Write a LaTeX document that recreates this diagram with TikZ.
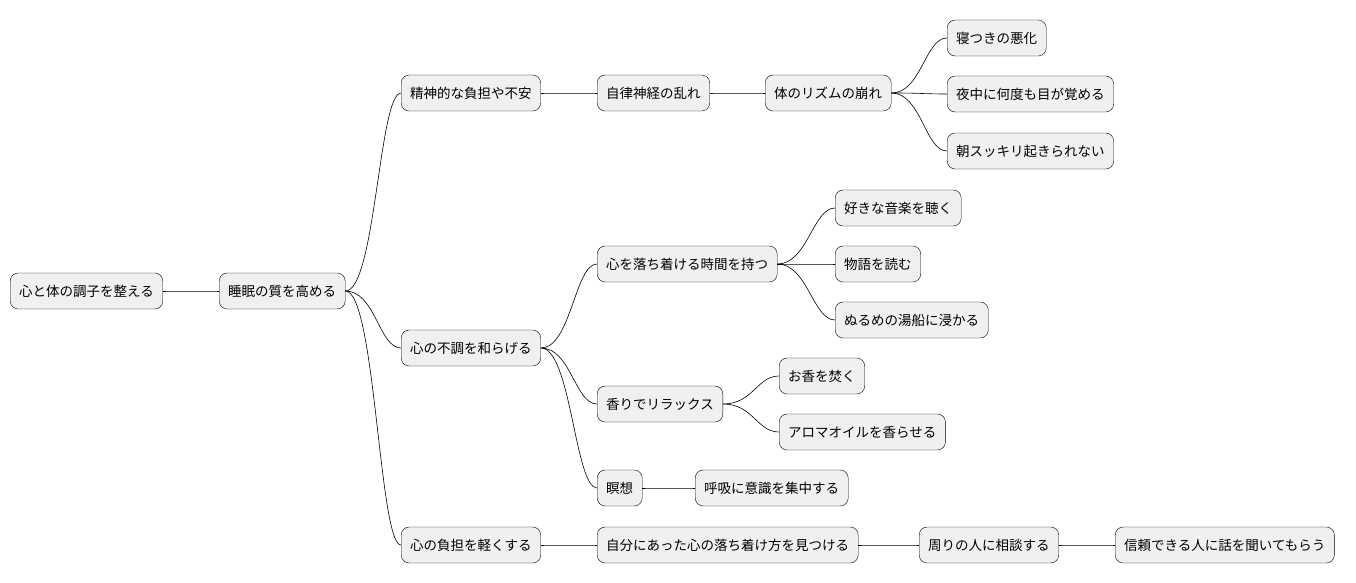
\documentclass[tikz,border=0pt]{standalone}
\usepackage{fontspec}
\setmainfont{Noto Sans CJK JP}
\begin{document}
\begin{tikzpicture}[x=1pt,y=-1pt,>=latex]
        \tikzset{
                topic/.style={draw=black,fill=black!6,rounded corners=8pt,anchor=west,
                        minimum height=36pt,inner xsep=9pt,font=\fontsize{13.5}{15}\selectfont},
                link/.style={black,line width=0.6pt}
        }
        \useasboundingbox (0,0) rectangle (1356,583);

        % root and first level
        \node[topic] (root) at (10,291) {心と体の調子を整える};
        \node[topic] (sleep) at (219,291) {睡眠の質を高める};
        \node[topic] (stress) at (401,93) {精神的な負担や不安};
        \node[topic] (ease) at (401,348) {心の不調を和らげる};
        \node[topic] (light) at (401,545) {心の負担を軽くする};

        % branch: stress
        \node[topic] (nerve) at (597,93) {自律神経の乱れ};
        \node[topic] (rhythm) at (765,93) {体のリズムの崩れ};
        \node[topic] (fall) at (947,38) {寝つきの悪化};
        \node[topic] (wake) at (947,94) {夜中に何度も目が覚める};
        \node[topic] (morning) at (947,151) {朝スッキリ起きられない};

        % branch: ease
        \node[topic] (calm) at (597,264) {心を落ち着ける時間を持つ};
        \node[topic] (music) at (835,208) {好きな音楽を聴く};
        \node[topic] (story) at (835,264) {物語を読む};
        \node[topic] (bath) at (835,320) {ぬるめの湯船に浸かる};
        \node[topic] (scent) at (597,404) {香りでリラックス};
        \node[topic] (incense) at (779,376) {お香を焚く};
        \node[topic] (aroma) at (779,432) {アロマオイルを香らせる};
        \node[topic] (medit) at (597,488) {瞑想};
        \node[topic] (breath) at (695,488) {呼吸に意識を集中する};

        % branch: light
        \node[topic] (own) at (597,545) {自分にあった心の落ち着け方を見つける};
        \node[topic] (consult) at (919,545) {周りの人に相談する};
        \node[topic] (listen) at (1115,545) {信頼できる人に話を聞いてもらう};

        % connectors
        \foreach \a/\b in {root/sleep,sleep/stress,sleep/ease,sleep/light,
                stress/nerve,nerve/rhythm,rhythm/fall,rhythm/wake,rhythm/morning,
                ease/calm,calm/music,calm/story,calm/bath,ease/scent,scent/incense,
                scent/aroma,ease/medit,medit/breath,light/own,own/consult,consult/listen}
                \draw[link] (\a.east) .. controls +(30,0) and +(-22,0) .. (\b.west);
\end{tikzpicture}
\end{document}
